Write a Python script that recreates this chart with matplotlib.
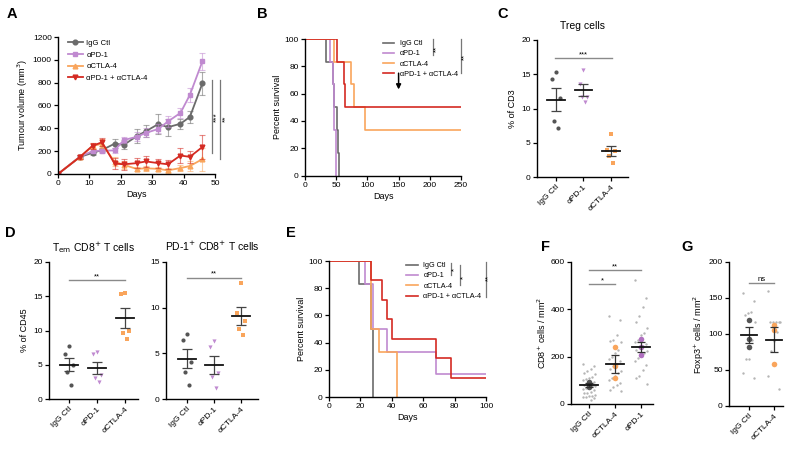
import matplotlib
matplotlib.use("Agg")
from matplotlib import pyplot as plt
import numpy as np

plt.rcParams['font.family'] = ['Liberation Sans', 'DejaVu Sans']
plt.rcParams['font.size'] = 6
plt.rcParams['axes.linewidth'] = 1.0
plt.rcParams['xtick.major.width'] = 0.9
plt.rcParams['ytick.major.width'] = 0.9
plt.rcParams['xtick.major.size'] = 3
plt.rcParams['ytick.major.size'] = 3
plt.rcParams['xtick.major.pad'] = 1.5
plt.rcParams['ytick.major.pad'] = 1.5

GRAY = '#6b6b6b'
PURPLE = '#c08ad0'
ORANGE = '#f9a55c'
RED = '#d42a22'
LBL = ['IgG Ctl', 'αPD-1', 'αCTLA-4', 'αPD-1 + αCTLA-4']

# ---- A: tumour growth
days = [0, 7, 11, 14, 18, 21, 25, 28, 32, 35, 39, 42, 46]
igg_vol = [0, 150, 185, 210, 265, 256, 330, 375, 438, 410, 440, 500, 795]
igg_sem = [0, 15, 15, 15, 40, 40, 60, 55, 88, 75, 45, 50, 100]
pd1_vol = [0, 153, 200, 205, 206, 298, 325, 360, 395, 460, 535, 693, 988]
pd1_sem = [0, 15, 20, 20, 20, 25, 40, 40, 40, 50, 45, 60, 75]
ctla_vol = [0, 150, 245, 265, 108, 80, 45, 50, 45, 32, 52, 70, 130]
ctla_sem = [0, 15, 30, 40, 40, 35, 20, 20, 20, 20, 25, 40, 100]
combo_vol = [0, 150, 247, 278, 92, 85, 95, 110, 95, 85, 162, 150, 237]
combo_sem = [0, 15, 25, 35, 45, 50, 45, 50, 40, 40, 65, 55, 105]

# ---- B: survival (KM steps)
b_igg_t = [0, 34, 45, 47, 51, 53, 55]
b_igg_s = [100, 83.3, 66.7, 50, 33.3, 16.7, 0]
b_pd1_t = [0, 40, 45, 46, 47, 49]
b_pd1_s = [100, 83.3, 66.7, 50, 33.3, 0]
b_ctla_t = [0, 47, 73, 79, 96, 250]
b_ctla_s = [100, 83.3, 66.7, 50, 33.3, 33.3]
b_combo_t = [0, 52, 62, 64, 250]
b_combo_s = [100, 83.3, 66.7, 50, 50]

# ---- C: Treg cells (% of CD3)
c_igg = [15.4, 14.3, 11.5, 8.2, 7.1]
c_pd1 = [15.6, 13.6, 11.7, 11.7, 10.9]
c_ctla = [6.3, 4.0, 3.8, 3.0, 2.0]

# ---- D: % of CD45
d1_igg = [7.7, 6.5, 4.9, 4.0, 2.0]
d1_pd1 = [6.9, 6.6, 3.5, 3.1, 2.5]
d1_ctla = [15.5, 15.3, 10.0, 9.7, 8.7]
d2_igg = [7.1, 6.5, 4.0, 3.0, 1.5]
d2_pd1 = [6.3, 5.7, 2.8, 2.4, 1.2]
d2_ctla = [12.7, 9.4, 8.5, 7.7, 7.0]

# ---- E: survival
e_igg_t = [0, 19, 27, 28]
e_igg_s = [100, 83.3, 50, 0]
e_pd1_t = [0, 23, 28, 37, 68, 100]
e_pd1_s = [100, 83.3, 50, 33.3, 16.7, 16.7]
e_ctla_t = [0, 27, 32, 43]
e_ctla_s = [100, 50, 33.3, 0]
e_combo_t = [0, 27, 34, 37, 40, 68, 78, 100]
e_combo_s = [100, 85.7, 71.4, 57.1, 42.9, 28.6, 14.3, 14.3]

# ---- F: CD8+ cells / mm2 (fields = small, mice = big)
f_igg_small = [170, 160, 150, 140, 130, 125, 115, 110, 105, 100, 95, 90, 85, 82, 78,
               75, 70, 68, 62, 58, 52, 48, 45, 40, 35, 32, 30, 28, 25, 15]
f_ctla_small = [370, 355, 290, 270, 265, 260, 230, 215, 200, 190, 180, 170, 160, 150,
                140, 130, 120, 110, 100, 90, 80, 70, 60, 55]
f_pd1_small = [525, 450, 410, 370, 345, 320, 300, 290, 270, 260, 255, 245, 240, 230,
               225, 215, 205, 195, 180, 165, 145, 120, 110, 85]
f_igg_big = [95, 75, 70]
f_ctla_big = [240, 160, 110]
f_pd1_big = [275, 240, 205]

# ---- G: Foxp3+ cells / mm2
g_igg_small = [157, 146, 131, 129, 126, 117, 92, 65, 65, 46, 39]
g_ctla_small = [160, 117, 117, 117, 117, 117, 103, 90, 76, 41, 24]
g_igg_big = [120, 93, 82]
g_ctla_big = [113, 105, 58]

fig = plt.figure(figsize=(8, 4.49), dpi=100)


def px_axes(l, r, t, b):
    return fig.add_axes([l / 800, 1 - b / 449, (r - l) / 800, (b - t) / 449])


def clean(ax):
    ax.spines['top'].set_visible(False)
    ax.spines['right'].set_visible(False)


# ================= A
ax = px_axes(58, 215, 37, 174)
clean(ax)
series = [(igg_vol, igg_sem, GRAY, 'o'), (pd1_vol, pd1_sem, PURPLE, 's'),
          (ctla_vol, ctla_sem, ORANGE, '^'), (combo_vol, combo_sem, RED, 'v')]
for (v, e, c, m), lab in zip(series, LBL):
    ax.errorbar(days, v, yerr=e, fmt='none', ecolor=c, elinewidth=0.8, capsize=2,
                capthick=0.8, alpha=0.55)
    ax.plot(days, v, color=c, lw=1.3, marker=m, ms=3.4, label=lab)
ax.set_xlim(0, 50)
ax.set_ylim(0, 1200)
ax.set_xticks([0, 10, 20, 30, 40, 50])
ax.set_yticks(range(0, 1201, 200))
ax.set_xlabel('Days', fontsize=6.5, labelpad=2)
ax.set_ylabel('Tumour volume (mm$^3$)', fontsize=6.5, labelpad=2)
leg = ax.legend(loc='upper left', bbox_to_anchor=(0.02, 1.03), frameon=False,
                fontsize=5.5, handlelength=1.9, handletextpad=0.5, labelspacing=0.55)
ax.plot([49, 49], [184, 823], color='#777', lw=0.9, clip_on=False)
ax.text(50.6, 500, '***', rotation=90, ha='center', va='center', fontsize=6)
ax.plot([51.6, 51.6], [131, 823], color='#777', lw=0.9, clip_on=False)
ax.text(53.3, 480, '**', rotation=90, ha='center', va='center', fontsize=6)


# ================= survival helper
def km_panel(ax, curves, xmax, xstep):
    clean(ax)
    for (t, s, c), lab in zip(curves, LBL):
        ax.step(t, s, where='post', color=c, lw=1.2, label=lab)
    ax.set_xlim(0, xmax)
    ax.set_ylim(0, 100)
    ax.set_xticks(np.arange(0, xmax + 1, xstep))
    ax.set_yticks([0, 20, 40, 60, 80, 100])
    ax.set_xlabel('Days', fontsize=6.5, labelpad=2)
    ax.set_ylabel('Percent survival', fontsize=6.5, labelpad=2)


def vbar(ax, x, y0, y1, stars, xs, ys):
    ax.plot([x, x], [y0, y1], color='#777', lw=0.9, transform=ax.transAxes, clip_on=False)
    ax.text(xs, ys, stars, rotation=90, ha='center', va='center', fontsize=5.5,
            transform=ax.transAxes)


# ================= B
ax = px_axes(305, 461, 39, 175.5)
km_panel(ax, [(b_igg_t, b_igg_s, GRAY), (b_pd1_t, b_pd1_s, PURPLE),
              (b_ctla_t, b_ctla_s, ORANGE), (b_combo_t, b_combo_s, RED)], 250, 50)
ax.legend(loc='upper left', bbox_to_anchor=(0.46, 1.04), frameon=False, fontsize=5.2,
          handlelength=1.5, handletextpad=0.8, labelspacing=0.45)
vbar(ax, 0.82, 1.0, 0.883, '**', 0.845, 0.93)
vbar(ax, 1.0, 1.0, 0.75, '**', 1.025, 0.87)
ax.annotate('', xy=(150, 61), xytext=(150, 77),
            arrowprops=dict(arrowstyle='-|>', color='k', lw=1.1, mutation_scale=7))

# ================= E
ax = px_axes(329, 486, 261, 397)
km_panel(ax, [(e_igg_t, e_igg_s, GRAY), (e_pd1_t, e_pd1_s, PURPLE),
              (e_ctla_t, e_ctla_s, ORANGE), (e_combo_t, e_combo_s, RED)], 100, 20)
ax.legend(loc='upper left', bbox_to_anchor=(0.45, 1.04), frameon=False, fontsize=5.2,
          handlelength=1.6, handletextpad=0.8, labelspacing=0.45)
vbar(ax, 0.777, 0.985, 0.897, '*', 0.80, 0.94)
vbar(ax, 0.834, 0.97, 0.824, '*', 0.856, 0.88)
vbar(ax, 1.0, 0.99, 0.735, '**', 1.02, 0.875)


# ================= dot plot helper
def dot_panel(ax, groups, cats, ylim, yticks, xlim, capw=0.17, meanw=0.32):
    clean(ax)
    for i, (vals, c, m) in enumerate(groups):
        offs = [0, -0.14, 0.14, -0.07, 0.07][:len(vals)]
        ax.scatter([i + o for o in offs], vals, s=9, color=c, marker=m,
                   linewidths=0, zorder=3)
        mean = np.mean(vals)
        sem = np.std(vals, ddof=1) / np.sqrt(len(vals))
        ax.errorbar(i, mean, yerr=sem, color='#444', lw=0.9, capsize=capw * 20,
                    capthick=0.9, zorder=4)
        ax.plot([i - meanw, i + meanw], [mean, mean], color='#111', lw=1.3, zorder=5)
    ax.set_xlim(*xlim)
    ax.set_ylim(*ylim)
    ax.set_yticks(yticks)
    ax.set_xticks(range(len(cats)))
    ax.set_xticklabels(cats, rotation=45, ha='right', rotation_mode='anchor', fontsize=6)


def sig(ax, x0, x1, y, text):
    ax.plot([x0, x1], [y, y], color='#8a8a8a', lw=1.0, clip_on=False)
    ax.text((x0 + x1) / 2, y, text, ha='center', va='bottom', fontsize=5.5)


cats3 = ['IgG Ctl', 'αPD-1', 'αCTLA-4']

# ================= C
ax = px_axes(537, 628, 40, 177)
dot_panel(ax, [(c_igg, '#555', 'o'), (c_pd1, PURPLE, 'v'), (c_ctla, ORANGE, 's')],
          cats3, (0, 20), [0, 5, 10, 15, 20], (-0.69, 2.62))
ax.set_ylabel('% of CD3', fontsize=6.5, labelpad=3)
ax.set_title('Treg cells', fontsize=7.5, pad=8)
sig(ax, -0.05, 2.05, 17.3, '***')

# ================= D
ax = px_axes(49, 138, 262, 399)
dot_panel(ax, [(d1_igg, '#555', 'o'), (d1_pd1, PURPLE, 'v'), (d1_ctla, ORANGE, 's')],
          cats3, (0, 20), [0, 5, 10, 15, 20], (-0.7, 2.45))
ax.set_ylabel('% of CD45', fontsize=6.5, labelpad=3)
ax.set_title('T$_{\\mathrm{em}}$ CD8$^{+}$ T cells', fontsize=7.5, pad=8)
sig(ax, 0, 2, 17.3, '**')

ax = px_axes(166, 258, 262, 399)
dot_panel(ax, [(d2_igg, '#555', 'o'), (d2_pd1, PURPLE, 'v'), (d2_ctla, ORANGE, 's')],
          cats3, (0, 15), [0, 5, 10, 15], (-0.78, 2.63))
ax.set_title('PD-1$^{+}$ CD8$^{+}$ T cells', fontsize=7.5, pad=8)
sig(ax, 0, 2, 13.3, '**')


# ================= F / G helper
def field_panel(ax, smalls, bigs, colors, cats, ylim, yticks, xlim):
    clean(ax)
    for i, (sm, bg, c) in enumerate(zip(smalls, bigs, colors)):
        offs = [((k * 7) % 9 - 4) * 0.06 for k in range(len(sm))]
        ax.scatter([i + o for o in offs], sm, s=3, color='#b5b5b5', linewidths=0, zorder=2)
        ax.scatter([i] * len(bg), bg, s=16, color=c, linewidths=0, zorder=3)
        mean = np.mean(bg)
        sem = np.std(bg, ddof=1) / np.sqrt(len(bg))
        ax.errorbar(i, mean, yerr=sem, color='#333', lw=0.9, capsize=3.2,
                    capthick=0.9, zorder=4)
        ax.plot([i - 0.33, i + 0.33], [mean, mean], color='#111', lw=1.3, zorder=5)
    ax.set_xlim(*xlim)
    ax.set_ylim(*ylim)
    ax.set_yticks(yticks)
    ax.set_xticks(range(len(cats)))
    ax.set_xticklabels(cats, rotation=45, ha='right', rotation_mode='anchor', fontsize=6)


ax = px_axes(571, 653, 262, 404)
field_panel(ax, [f_igg_small, f_ctla_small, f_pd1_small], [f_igg_big, f_ctla_big, f_pd1_big],
            ['#555', ORANGE, '#b070c0'], ['IgG Ctl', 'αCTLA-4', 'αPD-1'],
            (0, 600), [0, 200, 400, 600], (-0.69, 2.46))
ax.set_ylabel('CD8$^{+}$ cells / mm$^{2}$', fontsize=6.5, labelpad=2)
sig(ax, 0, 1, 505, '*')
sig(ax, 0, 2, 565, '**')

ax = px_axes(729, 783, 262, 406)
field_panel(ax, [g_igg_small, g_ctla_small], [g_igg_big, g_ctla_big],
            ['#555', ORANGE], ['IgG Ctl', 'αCTLA-4'],
            (0, 200), [0, 50, 100, 150, 200], (-0.8, 1.36))
ax.set_ylabel('Foxp3$^{+}$ cells / mm$^{2}$', fontsize=6.5, labelpad=2)
sig(ax, 0, 1, 171, 'ns')

# panel letters
for lab, x, y in [('A', 12, 14), ('B', 262, 14), ('C', 503, 14), ('D', 10, 233),
                  ('E', 291, 233), ('F', 545, 247), ('G', 687, 247)]:
    fig.text(x / 800, 1 - y / 449, lab, fontsize=10.5, fontweight='bold',
             ha='center', va='center')

fig.savefig('out.png', dpi=100)
